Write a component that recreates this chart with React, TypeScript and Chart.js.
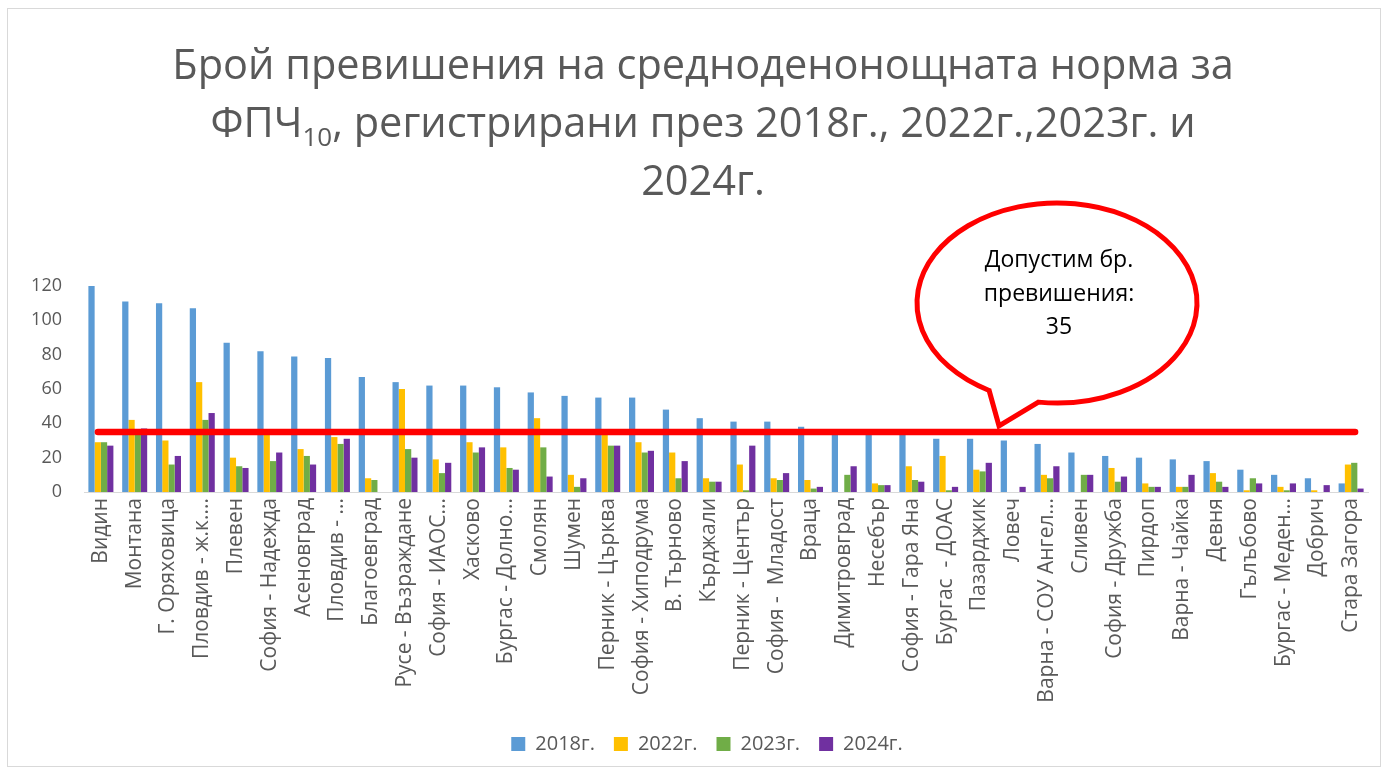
import React, { useEffect, useRef } from "react";
import { Chart, registerables } from "chart.js";

Chart.register(...registerables);

const categories = [
  "Видин", "Монтана", "Г. Оряховица", "Пловдив - ж.к....", "Плевен",
  "София - Надежда", "Асеновград", "Пловдив - ...", "Благоевград", "Русе - Възраждане",
  "София - ИАОС...", "Хасково", "Бургас - Долно...", "Смолян", "Шумен",
  "Перник - Църква", "София - Хиподрума", "В. Търново", "Кърджали", "Перник - Център",
  "София -  Младост", "Враца", "Димитровград", "Несебър", "София - Гара Яна",
  "Бургас  - ДОАС", "Пазарджик", "Ловеч", "Варна - СОУ Ангел...", "Сливен",
  "София - Дружба", "Пирдоп", "Варна - Чайка", "Девня", "Гълъбово",
  "Бургас - Меден...", "Добрич", "Стара Загора",
];

const values2018 = [120, 111, 110, 107, 87, 82, 79, 78, 67, 64, 62, 62, 61, 58, 56, 55, 55, 48, 43, 41, 41, 38, 35, 35, 34, 31, 31, 30, 28, 23, 21, 20, 19, 18, 13, 10, 8, 5];
const values2022 = [29, 42, 30, 64, 20, 35, 25, 32, 8, 60, 19, 29, 26, 43, 10, 34, 29, 23, 8, 16, 8, 7, 0, 5, 15, 21, 13, 0, 10, 0, 14, 5, 3, 11, 1, 3, 1, 16];
const values2023 = [29, 35, 16, 42, 15, 18, 21, 28, 7, 25, 11, 23, 14, 26, 3, 27, 23, 8, 6, 1, 7, 2, 10, 4, 7, 1, 12, 0, 8, 10, 6, 3, 3, 6, 8, 1, 0, 17];
const values2024 = [27, 37, 21, 46, 14, 23, 16, 31, 0, 20, 17, 26, 13, 9, 8, 27, 24, 18, 6, 27, 11, 3, 15, 4, 6, 3, 17, 3, 15, 10, 9, 3, 10, 3, 5, 5, 4, 2];

const seriesLabels = ["2018г.", "2022г.", "2023г.", "2024г."];
const seriesColors = ["#5B9BD5", "#FFC000", "#70AD47", "#7030A0"];
const yTicks = [0, 20, 40, 60, 80, 100, 120];
const normLimit = 35;

const titleLine1 = "Брой превишения на средноденонощната норма за";
const titleLine2a = "ФПЧ";
const titleLine2sub = "10";
const titleLine2b = ", регистрирани през 2018г., 2022г.,2023г. и";
const titleLine3 = "2024г.";
const calloutLines = ["Допустим бр.", "превишения:", "35"];

const FONT = "'Open Sans', sans-serif";
const GREY = "#595959";

const overlayPlugin = {
  id: "overlay",
  afterLayout(chart: any) {
    const lg = chart.legend;
    if (lg) {
      lg.left += 18;
      lg.right += 18;
    }
  },
  beforeDraw(chart: any) {
    const { ctx, width, height } = chart;
    ctx.save();
    ctx.fillStyle = "#ffffff";
    ctx.fillRect(0, 0, width, height);
    ctx.strokeStyle = "#D9D9D9";
    ctx.lineWidth = 1;
    ctx.strokeRect(7.5, 8.5, width - 14, height - 16);

    // title
    const cx = 703;
    const big = `41.5px ${FONT}`;
    const small = `26px ${FONT}`;
    ctx.fillStyle = GREY;
    ctx.textBaseline = "alphabetic";
    ctx.textAlign = "left";
    const lines = [
      { y: 79, parts: [{ t: titleLine1, f: big, dy: 0 }] },
      {
        y: 137,
        parts: [
          { t: titleLine2a, f: big, dy: 0 },
          { t: titleLine2sub, f: small, dy: 9 },
          { t: titleLine2b, f: big, dy: 0 },
        ],
      },
      { y: 195, parts: [{ t: titleLine3, f: big, dy: 0 }] },
    ];
    for (const line of lines) {
      let total = 0;
      for (const p of line.parts) {
        ctx.font = p.f;
        total += ctx.measureText(p.t).width;
      }
      let x = cx - total / 2;
      for (const p of line.parts) {
        ctx.font = p.f;
        ctx.fillText(p.t, x, line.y + p.dy);
        x += ctx.measureText(p.t).width;
      }
    }
    ctx.restore();
  },
  afterDatasetsDraw(chart: any) {
    const { ctx } = chart;
    const xs = chart.scales.x;
    const ys = chart.scales.y;
    const yl = ys.getPixelForValue(normLimit);
    const x0 = xs.getPixelForValue(0) - 3;
    const x1 = xs.getPixelForValue(categories.length - 1) + 4;
    ctx.save();
    ctx.strokeStyle = "#FF0000";
    ctx.lineWidth = 6.5;
    ctx.lineCap = "round";
    ctx.beginPath();
    ctx.moveTo(x0, yl);
    ctx.lineTo(x1, yl);
    ctx.stroke();

    // callout
    const ecx = 1057;
    const ecy = 303;
    const rx = 140;
    const ry = 100;
    const tipX = 999;
    const tipY = yl - 6;
    const a1 = (119 * Math.PI) / 180;
    const a2 = ((97.6 + 360) * Math.PI) / 180;
    ctx.beginPath();
    ctx.ellipse(ecx, ecy, rx, ry, 0, a1, a2, false);
    ctx.lineTo(tipX, tipY);
    ctx.closePath();
    ctx.fillStyle = "#ffffff";
    ctx.fill();
    ctx.lineWidth = 5;
    ctx.lineJoin = "miter";
    ctx.stroke();

    ctx.fillStyle = "#000000";
    ctx.font = `23px ${FONT}`;
    ctx.textAlign = "center";
    ctx.textBaseline = "middle";
    const ty = [260, 294, 327];
    calloutLines.forEach((t, i) => ctx.fillText(t, ecx + 2, ty[i]));
    ctx.restore();
  },
};

export default function App() {
  const ref = useRef<HTMLCanvasElement | null>(null);
  useEffect(() => {
    document.body.style.margin = "0";
    const canvas = ref.current;
    if (!canvas) return;
    const datasets = [values2018, values2022, values2023, values2024].map((d, i) => ({
      label: seriesLabels[i],
      data: d,
      backgroundColor: seriesColors[i],
      borderWidth: 0,
      categoryPercentage: 0.74,
      barPercentage: 1.0,
    }));
    const chart = new Chart(canvas, {
      type: "bar",
      data: { labels: categories, datasets },
      options: {
        responsive: false,
        animation: false,
        devicePixelRatio: 1,
        layout: { padding: { left: 10, right: 19, top: 286, bottom: 10 } },
        plugins: {
          title: { display: false },
          tooltip: { enabled: false },
          legend: {
            display: true,
            position: "bottom",
            labels: {
              boxWidth: 14,
              boxHeight: 14,
              padding: 19,
              color: GREY,
              font: { family: FONT, size: 20 },
            },
          },
        },
        scales: {
          x: {
            grid: { display: false, drawTicks: false },
            border: { display: true, color: "#D9D9D9", width: 1 },
            ticks: {
              autoSkip: false,
              minRotation: 90,
              maxRotation: 90,
              padding: 6,
              color: GREY,
              font: { family: FONT, size: 21 },
            },
            afterFit: (s: any) => {
              s.height = 223;
            },
          },
          y: {
            min: 0,
            max: 120,
            grid: { display: false, drawTicks: false },
            border: { display: false },
            afterBuildTicks: (s: any) => {
              s.ticks = yTicks.map((v) => ({ value: v }));
            },
            ticks: {
              padding: 22,
              color: GREY,
              font: { family: FONT, size: 18 },
            },
            afterFit: (s: any) => {
              s.width = 74;
            },
          },
        },
      },
      plugins: [overlayPlugin],
    });
    return () => chart.destroy();
  }, []);
  return (
    <div style={{ position: "absolute", left: 0, top: 0, width: 1387, height: 774 }}>
      <canvas ref={ref} width={1387} height={774} />
    </div>
  );
}
